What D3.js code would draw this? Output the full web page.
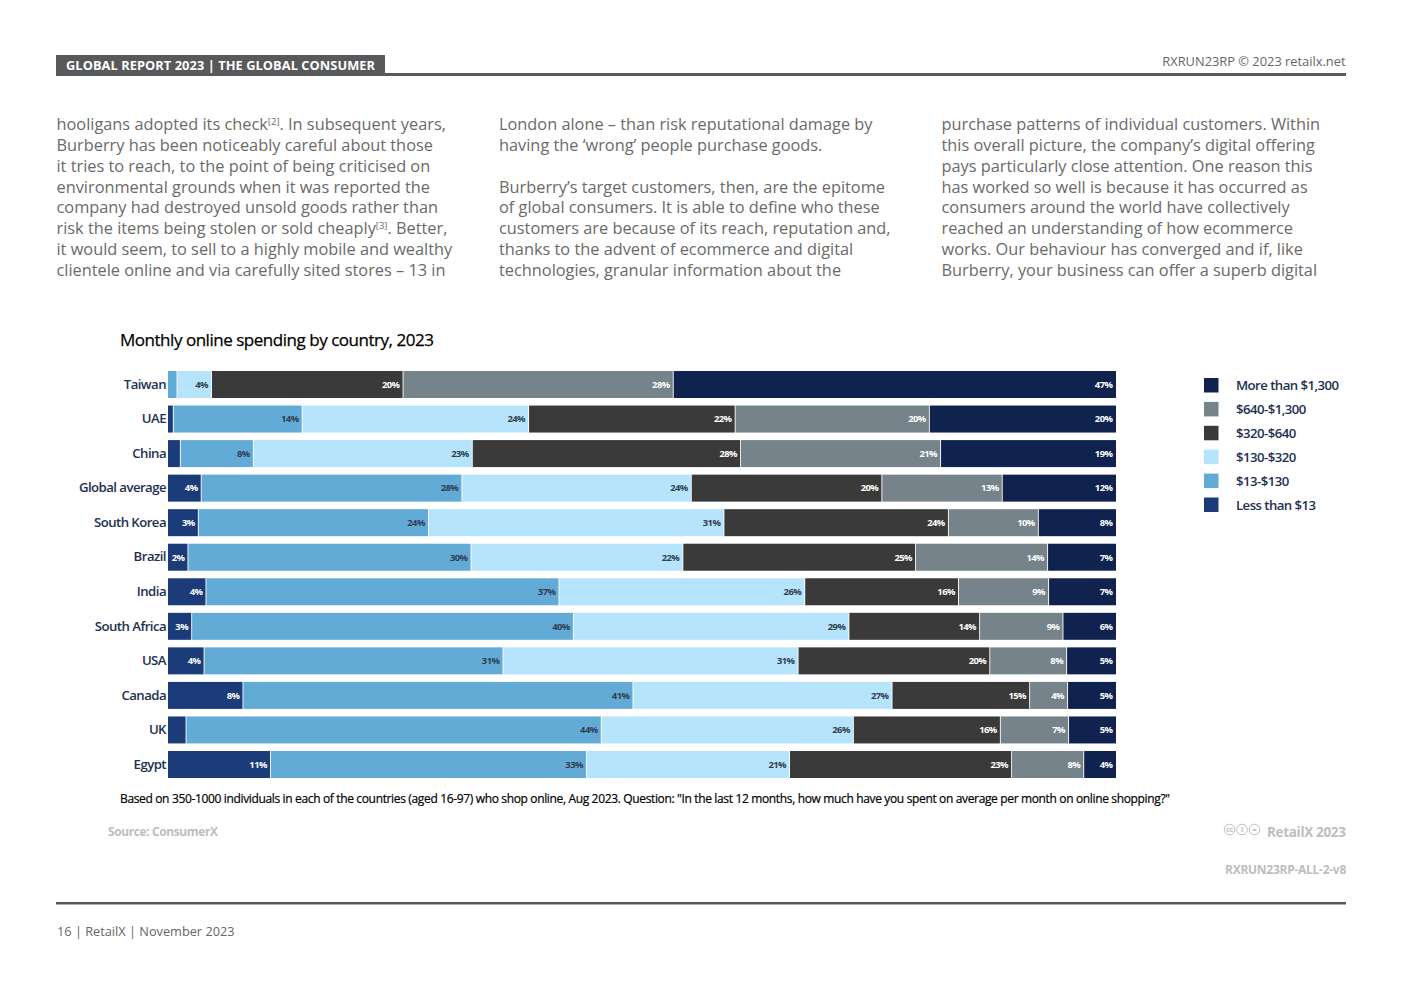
<!DOCTYPE html>
<html><head><meta charset="utf-8">
<script src="https://cdn.jsdelivr.net/npm/d3@7/dist/d3.min.js"></script>
<style>html,body{margin:0;padding:0;background:#fff}svg{display:block;font-family:"Open Sans",sans-serif}</style>
</head><body><svg id="c" width="1403" height="992"></svg>
<script>
const countries=["Taiwan","UAE","China","Global average","South Korea","Brazil","India","South Africa","USA","Canada","UK","Egypt"];
const bandNames=["Less than $13","$13-$130","$130-$320","$320-$640","$640-$1,300","More than $1,300"];
const lessThan13=[0,0.56,1.3,3.5,3.2,2.1,4.0,2.5,3.8,7.9,1.9,10.8];
const from13=[0.95,13.6,7.7,27.5,24.3,29.8,37.2,40.3,31.5,41.1,43.8,33.3];
const from130=[3.64,23.9,23.1,24.2,31.2,22.3,25.9,29.1,31.1,27.3,26.6,21.4];
const from320=[20.2,21.8,28.3,20.1,23.7,24.5,16.2,13.8,20.2,14.5,15.5,23.4];
const from640=[28.5,20.5,21.1,12.7,9.5,13.9,9.5,8.8,8.1,4.0,7.2,7.6];
const over1300=[46.7,19.7,18.5,12.0,8.2,7.2,7.1,5.6,5.2,5.1,5.0,3.4];
const printed=[
 [null,null,null,4,3,2,4,3,4,8,null,11],
 [null,14,8,28,24,30,37,40,31,41,44,33],
 [4,24,23,24,31,22,26,29,31,27,26,21],
 [20,22,28,20,24,25,16,14,20,15,16,23],
 [28,20,21,13,10,14,9,9,8,4,7,8],
 [47,20,19,12,8,7,7,6,5,5,5,4]];
const allSeries=[lessThan13,from13,from130,from320,from640,over1300];
const colours=["#1b3c78","#62abd6","#b7e4fd","#3a3a3a","#76838a","#10234f"];
const labelColours=["#fff","#2e3d50","#2e3d50","#fff","#fff","#fff"];
const legendOrder=[5,4,3,2,1,0];
const col1=[["hooligans adopted its check",["[2]",". In subsequent years,"]],"Burberry has been noticeably careful about those","it tries to reach, to the point of being criticised on","environmental grounds when it was reported the","company had destroyed unsold goods rather than",["risk the items being stolen or sold cheaply",["[3]",". Better,"]],"it would seem, to sell to a highly mobile and wealthy","clientele online and via carefully sited stores – 13 in"];
const col2=["London alone – than risk reputational damage by","having the ‘wrong’ people purchase goods.","","Burberry’s target customers, then, are the epitome","of global consumers. It is able to define who these","customers are because of its reach, reputation and,","thanks to the advent of ecommerce and digital","technologies, granular information about the"];
const col3=["purchase patterns of individual customers. Within","this overall picture, the company’s digital offering","pays particularly close attention. One reason this","has worked so well is because it has occurred as","consumers around the world have collectively","reached an understanding of how ecommerce","works. Our behaviour has converged and if, like","Burberry, your business can offer a superb digital"];

const svg=d3.select("#c");
const txt=(x,y,s,o={})=>{const t=svg.append("text").attr("x",x).attr("y",y).text(s)
 .attr("font-size",o.size||13).attr("fill",o.fill||"#666").attr("font-weight",o.weight||400)
 .attr("text-anchor",o.anchor||"start");
 if(o.ls!==undefined)t.attr("letter-spacing",o.ls);
 if(o.len){t.attr("textLength",o.len).attr("lengthAdjust","spacing");}
 if(o.stroke){t.attr("stroke",o.fill).attr("stroke-width",o.stroke);}
 return t;};

// page furniture
svg.append("rect").attr("x",56).attr("y",55).attr("width",329).attr("height",20).attr("fill","#58595b");
svg.append("rect").attr("x",56).attr("y",73).attr("width",1290).attr("height",3).attr("fill","#58595b");
txt(66,70,"GLOBAL REPORT 2023 | THE GLOBAL CONSUMER",{size:12.8,fill:"#fff",weight:700,len:309});
txt(1345.5,66,"RXRUN23RP © 2023 retailx.net",{size:12.85,anchor:"end",fill:"#666"});
svg.append("rect").attr("x",56).attr("y",902).attr("width",1290).attr("height",2.5).attr("fill","#58595b");
txt(57,936,"16 | RetailX | November 2023",{size:12.75,fill:"#666"});

// body columns
function column(x,lines){lines.forEach((l,i)=>{
 const y=130+i*20.85;
 if(typeof l==="string"){txt(x,y,l,{size:16.33,fill:"#6a6a6a"});return;}
 const t=txt(x,y,l[0],{size:16.33,fill:"#6a6a6a"});
 t.append("tspan").attr("font-size",9.5).attr("dy",-5).text(l[1][0]);
 t.append("tspan").attr("dy",5).text(l[1][1]);
});}
column(56.5,col1);column(499,col2);column(941.5,col3);

// chart
txt(120,346,"Monthly online spending by country, 2023",{size:17,fill:"#000",len:314,stroke:0.25});
const x=d3.scaleLinear().domain([0,100]).range([168,1116]);
const y=d3.scaleBand().domain(countries).range([371,778]).paddingInner(0.2185);
const rows=countries.map((c,i)=>{const o={country:c};allSeries.forEach((s,k)=>{o[k]=s[i];});return o;});
const stack=d3.stack().keys(d3.range(6)).value((d,k)=>d[k]);
const stacked=stack(rows);
const total=i=>d3.sum(allSeries,s=>s[i]);
stacked.forEach((layer,k)=>{
 const g=svg.append("g");
 const nx=(v,i)=>x(v/total(i)*100);
 const gapL=(d,i)=>d[0]>0?0.45:0, gapR=k<5?0.45:0;
 g.selectAll("rect").data(layer).join("rect")
  .attr("x",(d,i)=>nx(d[0],i)+gapL(d,i))
  .attr("y",d=>y(d.data.country))
  .attr("height",y.bandwidth())
  .attr("width",(d,i)=>Math.max(0,nx(d[1],i)-nx(d[0],i)-gapL(d,i)-gapR))
  .attr("fill",colours[k]);
 g.selectAll("text").data(layer).join("text")
  .attr("x",(d,i)=>nx(d[1],i)-3.6)
  .attr("y",d=>y(d.data.country)+y.bandwidth()/2+3.3)
  .attr("text-anchor","end").attr("font-size",9.4).attr("font-weight",700)
  .attr("letter-spacing",-0.55).attr("fill",labelColours[k])
  .text((d,i)=>printed[k][i]===null?"":printed[k][i]+"%");
});
const ax=svg.append("g").attr("transform","translate(166,0)").call(d3.axisLeft(y).tickSize(0).tickPadding(0));
ax.select(".domain").remove();
ax.selectAll("text").attr("font-family","'Open Sans',sans-serif").attr("font-size",13.2).attr("font-weight",600).attr("fill","#1e3052").attr("letter-spacing",-0.55);

// legend
const lg=svg.append("g");
legendOrder.forEach((k,i)=>{
 const ly=378+i*23.9;
 lg.append("rect").attr("x",1204).attr("y",ly).attr("width",14.5).attr("height",14.5).attr("fill",colours[k]);
 lg.append("text").attr("x",1236).attr("y",ly+12.3).attr("font-size",13.2).attr("font-weight",600).attr("fill","#1e3052").attr("letter-spacing",-0.55).text(bandNames[k]);
});

// notes
txt(120,802.5,'Based on 350-1000 individuals in each of the countries (aged 16-97) who shop online, Aug 2023. Question: "In the last 12 months, how much have you spent on average per month on online shopping?"',{size:12,fill:"#000",len:1050,stroke:0.2});
txt(108,836,"Source: ConsumerX",{size:12,fill:"#bdbdbd",weight:700,len:110});
txt(1267,837,"RetailX 2023",{size:13.5,fill:"#bdbdbd",weight:700,len:79});
txt(1346,874,"RXRUN23RP-ALL-2-v8",{size:12,fill:"#bdbdbd",weight:700,anchor:"end",ls:-0.27});
[["cc",1229.5],["i",1242],["=",1254.5]].forEach(([s,cx])=>{
 svg.append("circle").attr("cx",cx).attr("cy",829.5).attr("r",5.3).attr("fill","none").attr("stroke","#bdbdbd").attr("stroke-width",1);
 txt(cx,832,s,{size:7,fill:"#bdbdbd",anchor:"middle",weight:700});
});
</script></body></html>
